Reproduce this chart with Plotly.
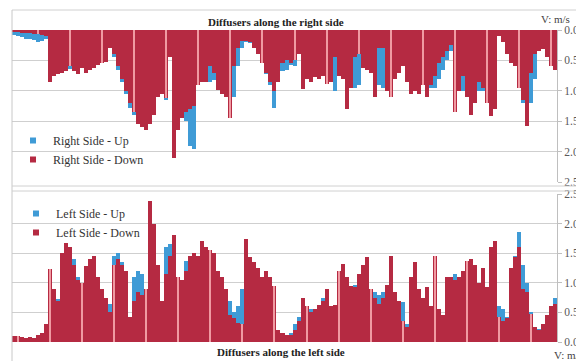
import plotly.graph_objects as go

# ---------------- data ----------------
right_down = [
    0.04, 0.04, 0.05, 0.05, 0.05, 0.06, 0.06, 0.08,
    0.10, 0.85, 0.75, 0.72, 0.70, 0.68, 0.60, 0.68,
    0.72, 0.62, 0.70, 0.65, 0.62, 0.58, 0.55, 0.52,
    0.30, 0.40, 0.60, 0.80, 1.00, 1.20, 1.35, 1.55,
    1.60, 1.65, 1.55, 1.40, 1.10, 1.05, 1.12, 0.45,
    2.10, 1.65, 1.45, 1.35, 1.30, 1.25, 0.90, 0.85,
    0.85, 0.60, 0.70, 0.98, 1.05, 1.10, 1.45, 0.60,
    0.30, 0.18, 0.18, 0.20, 0.30, 0.40, 0.55, 0.70,
    0.85, 1.00, 0.85, 0.55, 0.50, 0.55, 0.50, 0.40,
    0.97, 0.80, 0.85, 0.78, 0.80, 0.75, 0.88, 0.86,
    0.45, 0.75, 0.80, 1.30, 0.95, 0.45, 0.40, 0.62,
    0.65, 0.70, 1.10, 0.30, 0.30, 1.00, 1.10, 0.80,
    0.70, 0.60, 0.85, 1.05, 1.00, 1.05, 0.90, 1.10,
    0.90, 0.75, 0.55, 0.45, 0.35, 0.25, 1.35, 1.00,
    0.75, 1.10, 1.40, 1.20, 0.85, 0.95, 1.20, 1.42,
    1.30, 0.10, 0.20, 0.40, 0.55, 0.60, 0.95, 1.15,
    1.58, 0.70, 0.40, 0.35, 0.32, 0.45, 0.60, 0.65,
]
right_up = [
    0.08, 0.10, 0.12, 0.14, 0.15, 0.17, 0.20, 0.18,
    0.15, 0.80, 0.72, 0.70, 0.68, 0.66, 0.64, 0.65,
    0.68, 0.60, 0.66, 0.62, 0.60, 0.55, 0.52, 0.50,
    0.22, 0.45, 0.65, 0.85, 1.05, 1.28, 1.40, 1.45,
    1.50, 1.55, 1.45, 1.30, 1.05, 1.00, 1.15, 0.40,
    1.80, 1.50, 1.40, 1.50, 1.90, 1.95, 0.90, 0.83,
    0.80, 0.85, 0.82, 0.95, 1.00, 1.05, 1.40, 1.10,
    0.60, 0.30, 0.20, 0.22, 0.30, 0.38, 0.50, 0.72,
    0.90, 1.28, 0.80, 0.67, 0.65, 0.58, 0.60, 0.35,
    0.90, 0.78, 0.80, 0.75, 0.78, 0.72, 0.85, 0.84,
    1.00, 0.70, 0.75, 0.90, 0.92, 0.95, 0.90, 0.58,
    0.60, 0.65, 0.50, 0.90, 0.95, 0.90, 1.05, 0.78,
    0.68, 0.58, 0.80, 1.00, 0.95, 1.00, 0.90, 1.00,
    0.95, 0.95, 0.80, 0.65, 0.50, 0.35, 1.30, 0.95,
    1.00, 1.00, 1.20, 1.10, 1.00, 1.00, 1.10, 1.30,
    1.20, 0.08, 0.15, 0.35, 0.50, 0.55, 0.90, 1.20,
    1.30, 1.20, 0.80, 0.35, 0.32, 0.40, 0.50, 0.60,
]
left_down = [
    0.10, 0.10, 0.08, 0.07, 0.08, 0.07, 0.12, 0.15,
    0.30, 1.23, 0.90, 0.70, 1.50, 1.67, 1.60, 1.30,
    1.05, 1.00, 1.28, 1.40, 1.45, 1.10, 0.90, 0.75,
    0.50, 1.30, 1.40, 1.30, 1.20, 0.42, 0.70, 0.85,
    0.80, 0.90, 2.38, 2.00, 1.30, 0.70, 1.15, 1.45,
    1.80, 1.10, 1.05, 1.20, 1.45, 1.50, 1.45, 1.71,
    1.60, 1.55, 1.50, 1.20, 1.10, 0.90, 0.45, 0.40,
    0.32, 0.30, 1.74, 1.43, 1.35, 1.25, 1.10, 1.20,
    1.10, 0.95, 0.20, 0.15, 0.12, 0.12, 0.20, 0.35,
    0.75, 0.60, 0.50, 0.55, 0.62, 0.70, 0.90, 0.60,
    0.62, 1.20, 1.32, 1.10, 0.95, 0.93, 1.15, 1.30,
    1.43, 0.90, 0.75, 0.65, 0.75, 0.96, 1.46, 0.85,
    0.70, 0.35, 0.25, 1.10, 1.35, 0.90, 0.75, 0.93,
    0.60, 1.46, 0.55, 0.45, 1.10, 1.10, 1.05, 1.10,
    1.20, 1.37, 1.40, 1.30, 1.00, 1.25, 0.93, 1.60,
    1.71, 0.42, 0.35, 0.40, 1.25, 1.43, 1.60, 0.90,
    0.85, 0.48, 0.25, 0.20, 0.30, 0.45, 0.60, 0.65,
]
left_up = [
    0.10, 0.10, 0.08, 0.07, 0.08, 0.07, 0.12, 0.14,
    0.28, 0.80, 0.85, 0.72, 1.45, 1.60, 1.55, 1.40,
    1.10, 1.00, 1.20, 1.30, 1.30, 1.00, 0.85, 0.75,
    0.65, 1.45, 1.50, 1.35, 1.20, 0.42, 1.10, 1.20,
    1.15, 0.87, 2.20, 1.90, 1.10, 0.70, 1.60, 1.65,
    1.40, 1.05, 1.00, 1.37, 1.40, 1.45, 1.45, 1.60,
    1.55, 1.50, 1.30, 1.15, 1.00, 0.88, 0.70, 0.50,
    0.60, 0.90, 1.70, 1.40, 1.35, 1.20, 1.05, 1.10,
    1.00, 0.93, 0.20, 0.15, 0.12, 0.15, 0.30, 0.42,
    0.70, 0.60, 0.55, 0.50, 0.60, 0.75, 0.85, 0.60,
    0.60, 1.15, 1.25, 1.05, 0.95, 0.97, 1.10, 1.25,
    1.38, 0.90, 0.85, 0.80, 0.85, 0.90, 1.40, 0.80,
    0.70, 0.68, 0.30, 1.05, 1.30, 0.85, 0.70, 0.80,
    0.60, 1.30, 0.50, 0.45, 1.05, 1.10, 1.15, 1.10,
    1.15, 1.35, 1.30, 1.20, 1.00, 1.20, 0.90, 1.55,
    1.65, 0.60, 0.55, 0.42, 1.20, 1.45, 1.85, 1.30,
    1.00, 0.50, 0.25, 0.22, 0.30, 0.45, 0.60, 0.75,
]
diffusers = list(range(1, len(right_down) + 1))
tick_vals = [0.0, 0.5, 1.0, 1.5, 2.0, 2.5]

# ---------------- styles ----------------
BLUE = "#3f9bd6"
RED = "#b52a42"
STRIPE = "#f09aa2"
SERIF = "Liberation Serif"
# the page body has an 8px margin, so the figure is drawn 8px in from the corner
OFF = 8
W, H = 584 - OFF, 361 - OFF

def px_x(p):
    return (p - OFF) / W

def px_y(p):
    return 1 - (p - OFF) / H

# every 8th diffuser is drawn with a thin light highlight, as in the source chart
top_stripe = [i for i in range(len(diffusers)) if i % 8 == 6]
bot_stripe = [i for i in range(len(diffusers)) if i % 8 == 1]

fig = go.Figure()
fig.add_trace(go.Bar(x=diffusers, y=right_up, marker=dict(color=BLUE, line=dict(width=0)),
                     xaxis="x", yaxis="y", showlegend=False, name="Right Side - Up"))
fig.add_trace(go.Bar(x=diffusers, y=right_down, marker=dict(color=RED, line=dict(width=0)),
                     xaxis="x", yaxis="y", showlegend=False, name="Right Side - Down"))
fig.add_trace(go.Bar(x=[diffusers[i] for i in top_stripe], y=[right_down[i] for i in top_stripe],
                     width=0.5, marker=dict(color=STRIPE, line=dict(width=0)),
                     xaxis="x", yaxis="y", showlegend=False, hoverinfo="skip"))
fig.add_trace(go.Bar(x=diffusers, y=left_up, marker=dict(color=BLUE, line=dict(width=0)),
                     xaxis="x2", yaxis="y2", showlegend=False, name="Left Side - Up"))
fig.add_trace(go.Bar(x=diffusers, y=left_down, marker=dict(color=RED, line=dict(width=0)),
                     xaxis="x2", yaxis="y2", showlegend=False, name="Left Side - Down"))
fig.add_trace(go.Bar(x=[diffusers[i] for i in bot_stripe], y=[left_down[i] for i in bot_stripe],
                     width=0.5, marker=dict(color=STRIPE, line=dict(width=0)),
                     xaxis="x2", yaxis="y2", showlegend=False, hoverinfo="skip"))

# legend entries
for nm, col, lg, ax in [("Right Side - Up", BLUE, "legend", ("x", "y")),
                        ("Right Side - Down", RED, "legend", ("x", "y")),
                        ("Left Side - Up", BLUE, "legend2", ("x2", "y2")),
                        ("Left Side - Down", RED, "legend2", ("x2", "y2"))]:
    fig.add_trace(go.Scatter(x=[None], y=[None], mode="markers", name=nm,
                             marker=dict(symbol="square", size=6, color=col),
                             xaxis=ax[0], yaxis=ax[1], legend=lg))

xdom = [px_x(12), px_x(557)]
yax_common = dict(side="right", tickvals=tick_vals, tickformat=".1f",
                  showgrid=True, gridcolor="#cfcfcf", gridwidth=1,
                  zeroline=False, showline=True, linecolor="#bfbfbf",
                  ticks="outside", ticklen=4, tickcolor="#bfbfbf",
                  tickfont=dict(family=SERIF, size=11.5, color="#595959"),
                  automargin=False, fixedrange=True)

def note(text, x, y, bold=False):
    return dict(text=f"<b>{text}</b>" if bold else text, x=px_x(x), y=px_y(y),
                xref="paper", yref="paper", xanchor="center", yanchor="middle",
                showarrow=False,
                font=dict(family=SERIF, size=11, color="#222222" if bold else "#444444"))

def hline(y, x0=12, x1=584, color="#d0d0d0"):
    return dict(type="line", xref="paper", yref="paper", x0=px_x(x0), x1=px_x(x1),
                y0=px_y(y), y1=px_y(y), line=dict(color=color, width=1))

fig.update_layout(
    template="none",
    width=W, height=H, autosize=False,
    margin=dict(l=0, r=0, t=0, b=0, pad=0),
    paper_bgcolor="white", plot_bgcolor="white",
    barmode="overlay", bargap=0,
    xaxis=dict(domain=xdom, range=[0.5, len(diffusers) + 0.5], visible=False,
               anchor="y", automargin=False),
    yaxis=dict(domain=[px_y(182), px_y(30)], range=[2.5, 0], anchor="x", **yax_common),
    xaxis2=dict(domain=xdom, range=[0.5, len(diffusers) + 0.5], visible=False,
                anchor="y2", automargin=False),
    yaxis2=dict(domain=[px_y(342), px_y(194)], range=[0, 2.5], anchor="x2", **yax_common),
    legend=dict(x=px_x(13), y=px_y(126), xanchor="left", yanchor="top",
                bgcolor="rgba(0,0,0,0)", font=dict(family=SERIF, size=12, color="#333333"),
                tracegroupgap=0, itemwidth=30),
    legend2=dict(x=px_x(16), y=px_y(199), xanchor="left", yanchor="top",
                 bgcolor="rgba(0,0,0,0)", font=dict(family=SERIF, size=12, color="#333333"),
                 tracegroupgap=0, itemwidth=30),
    annotations=[
        note("Diffusers along the right side", 276, 22, bold=True),
        note("V: m/s", 555, 19),
        note("Diffusers along the left side", 281, 352, bold=True),
        note("V: m/s", 568, 355),
    ],
    shapes=[
        hline(10),
        dict(type="line", xref="paper", yref="paper", x0=px_x(12), x1=px_x(12),
             y0=px_y(10), y1=0, line=dict(color="#c8c8c8", width=1)),
        hline(186),
        hline(191),
    ],
)

fig.write_html("out.html")
